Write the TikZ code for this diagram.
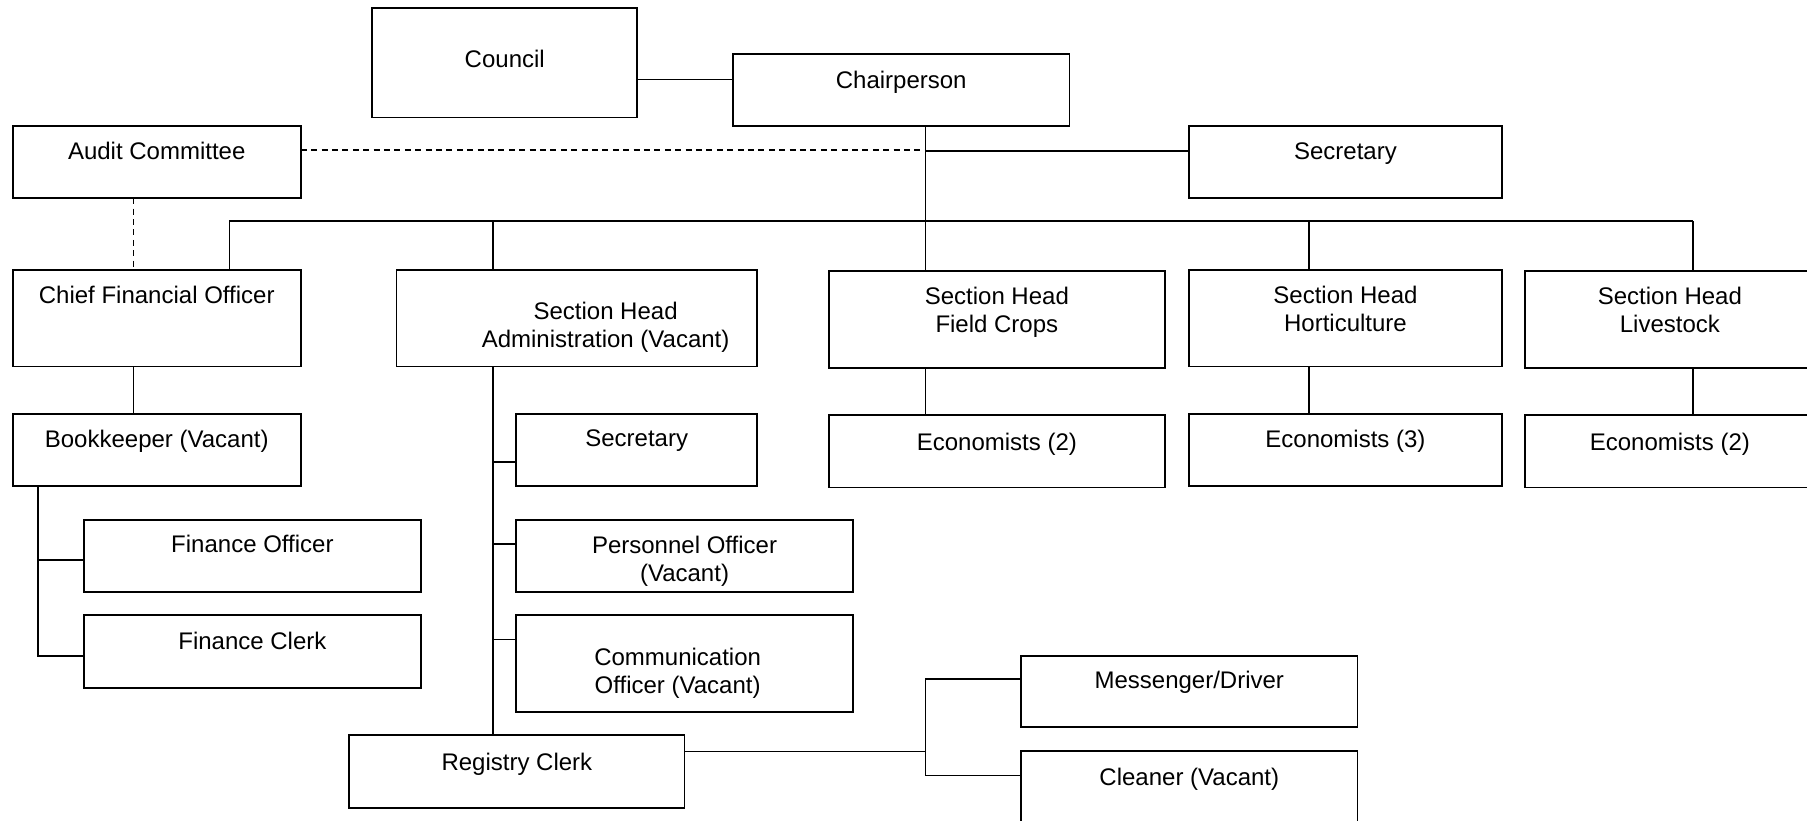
\documentclass[tikz,border=0pt]{standalone}
\usepackage{fontspec}
\setmainfont{Liberation Sans}
\begin{document}
\begin{tikzpicture}[x=0.5762pt,y=-0.5762pt,
  box/.style={draw,line width=0.9pt,inner sep=0pt,outer sep=0pt},
  lbl/.style={anchor=base,align=center,inner sep=0pt,font=\fontsize{12pt}{13.8pt}\selectfont},
  conn/.style={line width=0.8pt},
  dconn/.style={line width=0.8pt,dash pattern=on 3pt off 2.2pt}]
\newcommand{\orgbox}[8]{%
  \node[box,minimum width={(#4-#2)*0.5762pt},minimum height={(#5-#3)*0.5762pt}] (#1) at ({(#2+#4)/2},{(#3+#5)/2}) {};
  \node[lbl] (#1-t) at ({(#2+#4)/2+#7},{#3+#6+7.5}) {#8};}
\useasboundingbox (0,0) rectangle (1568,712);
\clip (0,0) rectangle (1568,712);
\orgbox{council}{323}{7}{553}{102}{44}{0}{Council}
\orgbox{chair}{636}{47}{928}{109}{22}{0}{Chairperson}
\orgbox{audit}{11}{109}{261}{172}{22}{0}{Audit Committee}
\orgbox{sectop}{1032}{109}{1303}{172}{22}{0}{Secretary}
\orgbox{cfo}{11}{234}{261}{318}{22}{0}{Chief Financial Officer}
\orgbox{admin}{344}{234}{657}{318}{60}{25}{Section Head\\Administration (Vacant)}
\orgbox{fc}{719}{235}{1011}{319}{46}{0}{Section Head\\Field Crops}
\orgbox{hort}{1032}{234}{1303}{318}{46}{0}{Section Head\\Horticulture}
\orgbox{live}{1323}{235}{1575}{319}{46}{0}{Section Head\\Livestock}
\orgbox{ecoa}{719}{360}{1011}{423}{23}{0}{Economists (2)}
\orgbox{ecob}{1032}{359}{1303}{422}{22}{0}{Economists (3)}
\orgbox{ecoc}{1323}{360}{1575}{423}{23}{0}{Economists (2)}
\orgbox{book}{11}{359}{261}{422}{22}{0}{Bookkeeper (Vacant)}
\orgbox{secadm}{448}{359}{657}{422}{21}{0}{Secretary}
\orgbox{fo}{73}{451}{365}{514}{21}{0}{Finance Officer}
\orgbox{fcl}{73}{534}{365}{597}{22}{0}{Finance Clerk}
\orgbox{pers}{448}{451}{740}{514}{46}{0}{Personnel Officer\\(Vacant)}
\orgbox{comm}{448}{534}{740}{618}{60}{-6}{Communication\\Officer (Vacant)}
\orgbox{reg}{303}{638}{594}{701}{23}{0}{Registry Clerk}
\orgbox{mess}{886}{569}{1178}{631}{21}{0}{Messenger/Driver}
\orgbox{clean}{886}{652}{1178}{714}{22}{0}{Cleaner (Vacant)}
% helper coordinates
\coordinate (spine) at (803,130);
\coordinate (busL) at (199,192);
\coordinate (busA) at (428,192);
\coordinate (busH) at (1136,192);
\coordinate (busR) at (1469,192);
\coordinate (cfoX) at (116,0);
\coordinate (bkX) at (33,0);
\coordinate (regJ) at (803,652);
% top
\draw[conn] (council.east |- 0,69) -- (chair.west |- 0,69);
\draw[conn] (spine |- chair.south) -- (spine |- fc.north);
\draw[dconn] (audit.east |- spine) -- (spine);
\draw[conn] (803,131) -- (sectop.west |- 0,131);
\draw[conn] (busL) -- (busR);
\draw[conn] (busL) -- (busL |- cfo.north);
\draw[conn] (busA) -- (busA |- admin.north);
\draw[conn] (busH) -- (busH |- hort.north);
\draw[conn] (busR) -- (busR |- live.north);
\draw[dconn] (cfoX |- audit.south) -- (cfoX |- cfo.north);
% economists
\draw[conn] (spine |- fc.south) -- (spine |- ecoa.north);
\draw[conn] (busH |- hort.south) -- (busH |- ecob.north);
\draw[conn] (busR |- live.south) -- (busR |- ecoc.north);
% finance
\draw[conn] (cfoX |- cfo.south) -- (cfoX |- book.north);
\draw[conn] (bkX |- book.south) -- (bkX |- 0,569) -- (fcl.west |- 0,569);
\draw[conn] (bkX |- 0,486) -- (fo.west |- 0,486);
% administration
\draw[conn] (busA |- admin.south) -- (busA |- reg.north);
\draw[conn] (busA |- 0,401) -- (secadm.west |- 0,401);
\draw[conn] (busA |- 0,472) -- (pers.west |- 0,472);
\draw[conn] (busA |- 0,555) -- (comm.west |- 0,555);
% registry
\draw[conn] (reg.east |- regJ) -- (regJ);
\draw[conn] (mess.west |- 0,589) -- (803,589) -- (803,673) -- (clean.west |- 0,673);
\end{tikzpicture}
\end{document}
